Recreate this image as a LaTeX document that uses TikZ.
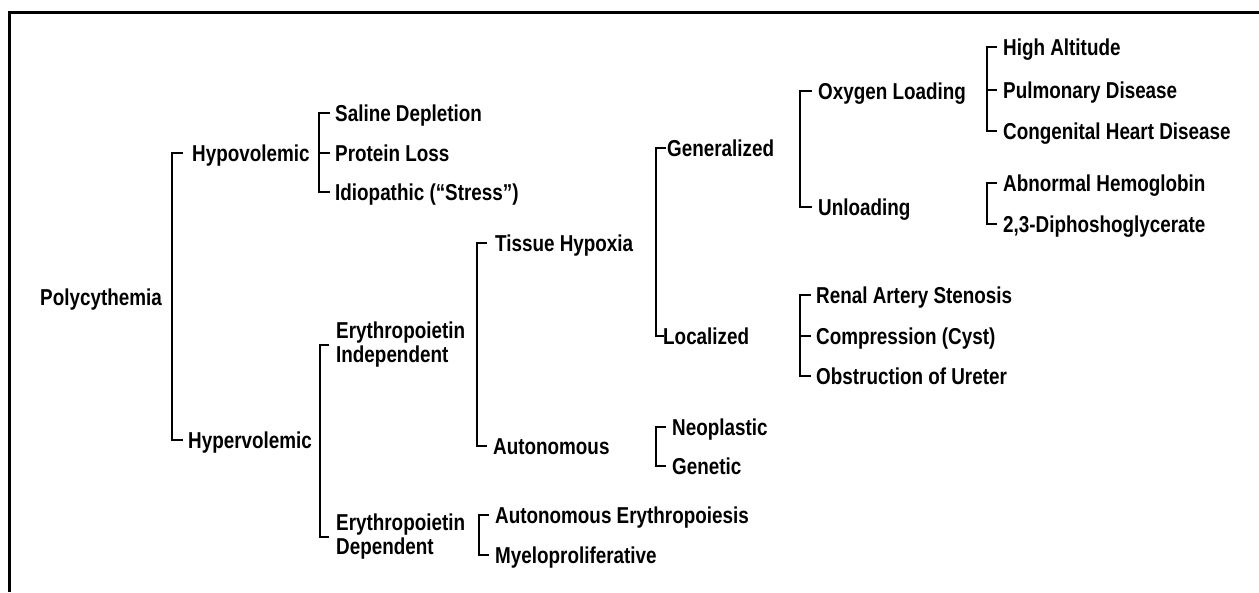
\documentclass[tikz,border=0pt]{standalone}
\usepackage{fontspec}
\setmainfont{Liberation Sans}[FakeStretch=0.82]
\begin{document}
\begin{tikzpicture}[x=1pt,y=-1pt,
  lbl/.style={inner sep=0pt, anchor=west, text height=16pt, text depth=0pt, font=\fontsize{23}{24}\selectfont\bfseries},
  lbltwo/.style={inner sep=0pt, anchor=west, align=left, font=\fontsize{23}{24}\selectfont\bfseries},
  br/.style={line width=2.6pt, line cap=butt, line join=miter},
  frame/.style={line width=3pt, line cap=butt, line join=miter}]
\useasboundingbox (0,0) rectangle (1259,592);
\draw[frame] (9,592) -- (9,12) -- (1259,12);

% nodes
\node[lbl] (poly)   at (40,297)  {Polycythemia};
\node[lbl] (hypo)   at (192,153) {Hypovolemic};
\node[lbl] (hyper)  at (188,440) {Hypervolemic};
\node[lbl] (saline) at (335,113) {Saline Depletion};
\node[lbl] (prot)   at (335,153) {Protein Loss};
\node[lbl] (idio)   at (335,192) {Idiopathic (``Stress'')};
\node[lbltwo] (eind) at (336,345) {Erythropoietin\\Independent};
\node[lbltwo] (edep) at (336,537) {Erythropoietin\\Dependent};
\node[lbl] (tiss)   at (495,243) {Tissue Hypoxia};
\node[lbl] (auto)   at (493,446) {Autonomous};
\node[lbl] (gen)    at (667,148) {Generalized};
\node[lbl] (loc)    at (663,336) {Localized};
\node[lbl] (oxy)    at (818,91)  {Oxygen Loading};
\node[lbl] (unl)    at (818,207) {Unloading};
\node[lbl] (high)   at (1003,47) {High Altitude};
\node[lbl] (pulm)   at (1003,90) {Pulmonary Disease};
\node[lbl] (cong)   at (1003,131) {Congenital Heart Disease};
\node[lbl] (abn)    at (1003,183) {Abnormal Hemoglobin};
\node[lbl] (dpg)    at (1003,224) {2,3-Diphoshoglycerate};
\node[lbl] (renal)  at (816,295) {Renal Artery Stenosis};
\node[lbl] (comp)   at (816,336) {Compression (Cyst)};
\node[lbl] (obst)   at (816,376) {Obstruction of Ureter};
\node[lbl] (neo)    at (672,427) {Neoplastic};
\node[lbl] (genet)  at (672,466) {Genetic};
\node[lbl] (aery)   at (495,515) {Autonomous Erythropoiesis};
\node[lbl] (myelo)  at (495,555) {Myeloproliferative};

% bracket spines
\coordinate (s0) at (172,0);
\coordinate (s1) at (319,0);
\coordinate (s2) at (320,0);
\coordinate (s3) at (477,0);
\coordinate (s4) at (656,0);
\coordinate (s5) at (800,0);
\coordinate (s6) at (987,0);
\coordinate (s7) at (987,0);
\coordinate (s8) at (800,0);
\coordinate (s9) at (656,0);
\coordinate (s10) at (479,0);

% brackets
\draw[br] (hypo.west -| s0) ++(11,0) -- (hypo.west -| s0) -- (hyper.west -| s0) -- ++(11,0);
\draw[br] (saline.west -| s1) ++(11,0) -- (saline.west -| s1) -- (idio.west -| s1) -- ++(11,0);
\draw[br] (prot.west -| s1) -- ++(11,0);
\draw[br] (eind.west -| s2) ++(9,0) -- (eind.west -| s2) -- (edep.west -| s2) -- ++(9,0);
\draw[br] (tiss.west -| s3) ++(10,0) -- (tiss.west -| s3) -- (auto.west -| s3) -- ++(10,0);
\draw[br] (gen.west -| s4) ++(10,0) -- (gen.west -| s4) -- (loc.west -| s4) -- ++(8,0);
\draw[br] (oxy.west -| s5) ++(12,0) -- (oxy.west -| s5) -- (unl.west -| s5) -- ++(12,0);
\draw[br] (high.west -| s6) ++(10,0) -- (high.west -| s6) -- (cong.west -| s6) -- ++(10,0);
\draw[br] (pulm.west -| s6) -- ++(10,0);
\draw[br] (abn.west -| s7) ++(10,0) -- (abn.west -| s7) -- (dpg.west -| s7) -- ++(10,0);
\draw[br] (renal.west -| s8) ++(11,0) -- (renal.west -| s8) -- (obst.west -| s8) -- ++(11,0);
\draw[br] (comp.west -| s8) -- ++(11,0);
\draw[br] (neo.west -| s9) ++(10,0) -- (neo.west -| s9) -- (genet.west -| s9) -- ++(10,0);
\draw[br] (aery.west -| s10) ++(10,0) -- (aery.west -| s10) -- (myelo.west -| s10) -- ++(10,0);
\end{tikzpicture}
\end{document}
